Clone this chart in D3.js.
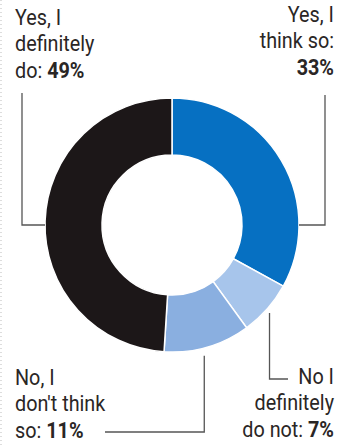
<!DOCTYPE html>
<html>
<head>
<meta charset="utf-8">
<script src="https://cdn.jsdelivr.net/npm/d3@7"></script>
<style>
  body { margin: 0; background: #fff; }
  svg text { font-family: "Roboto", sans-serif; fill: #2a2625; font-weight: 400; }
</style>
</head>
<body>
<div id="chart"></div>
<script>
const answers = ["Yes, I think so", "No I definitely do not", "No, I don't think so", "Yes, I definitely do"]
const shares = [33, 7, 11, 49]
const colors = ["#0670c2", "#a7c5eb", "#8aafe0", "#1c1718"]
const labelLines = [
  ["Yes, I", "think so:", "33%"],
  ["No I", "definitely", "do not: 7%"],
  ["No, I", "don't think", "so: 11%"],
  ["Yes, I", "definitely", "do: 49%"]
]

const width = 337
const height = 445
const cx = 172
const cy = 225
const outerR = 127
const innerR = 70

const svg = d3.select('#chart').append('svg')
  .attr('width', width)
  .attr('height', height)

// dotted edge on the left
svg.append('line')
  .attr('x1', 1).attr('x2', 1).attr('y1', 0).attr('y2', height)
  .attr('stroke', '#bbb').attr('stroke-dasharray', '1,3')

const pie = d3.pie().sort(null).value(d => d)
const arcs = pie(shares)
const arc = d3.arc().innerRadius(innerR).outerRadius(outerR)

const g = svg.append('g').attr('transform', `translate(${cx},${cy})`)
g.selectAll('path')
  .data(arcs)
  .enter()
  .append('path')
  .attr('d', arc)
  .attr('fill', (d, i) => colors[i])
  .attr('stroke', '#fff')
  .attr('stroke-width', 1.5)

const onEdge = (angle, r) => [cx + r * Math.sin(angle), cy - r * Math.cos(angle)]

// leader lines: [start point on ring, elbow, end]
const leaders = arcs.map((d, i) => {
  const mid = (d.startAngle + d.endAngle) / 2
  if (i === 0) {
    const p = onEdge(Math.PI / 2, outerR)
    return [p, [325, p[1]], [325, 95]]
  }
  if (i === 3) {
    const p = onEdge(Math.PI * 1.5, outerR)
    return [p, [22, p[1]], [22, 93]]
  }
  const p = onEdge(mid, outerR + 3)
  if (i === 1) return [[p[0], p[1] + 2], [p[0], 379], [288, 379]]
  return [[p[0] - 4, p[1] + 6], [p[0] - 4, 432], [105, 432]]
})

svg.selectAll('.leader')
  .data(leaders)
  .enter()
  .append('polyline')
  .attr('class', 'leader')
  .attr('points', d => d.map(p => p.join(',')).join(' '))
  .attr('fill', 'none')
  .attr('stroke', '#555')
  .attr('stroke-width', 1.3)

const labelPos = [
  { x: 334, y: 22, anchor: 'end' },
  { x: 334, y: 384, anchor: 'end' },
  { x: 15, y: 385, anchor: 'start' },
  { x: 15, y: 25, anchor: 'start' }
]

// squeeze text horizontally to mimic the condensed face
const squeeze = 0.9

labelLines.forEach((lines, i) => {
  const pos = labelPos[i]
  const t = svg.append('text')
    .attr('text-anchor', pos.anchor)
    .attr('font-size', 22)
    .attr('transform', `translate(${pos.x},0) scale(${squeeze},1) translate(${-pos.x},0)`)
  lines.forEach((line, j) => {
    const m = line.match(/^(.*?)(\d+%)$/)
    const tl = t.append('tspan')
      .attr('x', pos.x)
      .attr('y', pos.y + j * 26.5)
    if (m) {
      if (m[1]) tl.append('tspan').text(m[1])
      tl.append('tspan').attr('font-weight', 'bold').text(m[2])
    } else {
      tl.text(line)
    }
  })
})
</script>
</body>
</html>
